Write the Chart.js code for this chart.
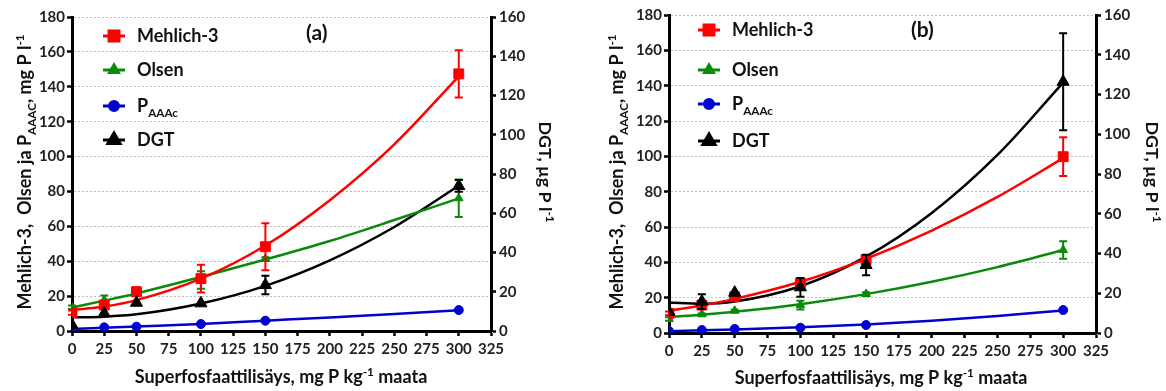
<!DOCTYPE html>
<html>
<head>
<meta charset="utf-8">
<script src="https://cdn.jsdelivr.net/npm/chart.js@4.4.1/dist/chart.umd.min.js"></script>
<style>
  html, body { margin: 0; padding: 0; background: #fff; }
  #wrap { position: relative; width: 1166px; height: 391px; }
  canvas { position: absolute; top: 0; }
</style>
</head>
<body>
<div id="wrap">
  <canvas id="chartA" width="583" height="391" style="left:0"></canvas>
  <canvas id="chartB" width="583" height="391" style="left:583px"></canvas>
</div>
<script>
// superfosfaatti doses (x) and x positions where the fitted curves were read
const doses = [0, 25, 50, 100, 150, 300];
const fitX = [0, 25, 50, 100, 150, 200, 250, 300];
const xTicks = [0, 25, 50, 75, 100, 125, 150, 175, 200, 225, 250, 275, 300, 325];
const leftTicks = [0, 20, 40, 60, 80, 100, 120, 140, 160, 180];
const rightTicks = [0, 20, 40, 60, 80, 100, 120, 140, 160];

// panel (a)
const mehlichA = [10.5, 14.9, 22.5, 30, 48.3, 147.4];
const mehlichErrA = [1.2, 1.5, 2.5, 8, 13.5, 13.5];
const olsenA = [13.6, 17.8, 21.6, 29.2, 41.3, 76.1];
const olsenErrA = [1, 2.5, 1, 5, 1, 10.8];
const aaacA = [1.1, 2.1, 2.5, 4, 5.9, 12];
const dgtA = [3.1, 9, 14.4, 14.1, 23.4, 73.9];
const dgtErrA = [0, 0, 0, 0, 4.7, 3];
const mehlichFitA = [12, 14, 17.7, 30, 49, 75, 107, 146];
const olsenFitA = [13.5, 17.4, 21.5, 31, 41, 51.6, 63.6, 76];
const aaacFitA = [1.2, 1.9, 2.6, 4, 5.9, 7.8, 9.8, 11.9];
const dgtFitA = [7, 7.3, 8.5, 14, 23, 36, 53, 74];

// panel (b)
const mehlichB = [11.1, 15.8, 20.5, 28.1, 41.5, 99.8];
const mehlichErrB = [1, 1, 1, 3, 2, 11];
const olsenB = [7.9, 10.6, 12.6, 15.8, 22.1, 47];
const olsenErrB = [1, 0.5, 0.5, 2.5, 1, 5];
const aaacB = [1.1, 1.7, 2.3, 3.0, 4.5, 13.0];
const dgtB = [10.7, 15.8, 20.3, 23.0, 34.2, 126.4];
const dgtErrB = [0, 3.7, 0, 4.7, 5.2, 24.4];
const mehlichFitB = [12.6, 15.6, 19.3, 29, 42, 58, 77, 99];
const olsenFitB = [9, 10.3, 12, 16.3, 22, 29, 37.3, 47];
const aaacFitB = [1, 1.5, 2, 3.2, 4.8, 7, 9.6, 12.8];
const dgtFitB = [15.3, 14.7, 15.8, 23.5, 38.4, 60.4, 89.6, 126];

const FONT = 'Lato, "Open Sans", sans-serif';
const RED = '#ff0000', GREEN = '#0a8a0a', BLUE = '#0000d0', BLACK = '#000000';

function pts(vals) { return doses.map((d, i) => ({x: d, y: vals[i]})); }
function fitPts(vals) { return fitX.map((d, i) => ({x: d, y: vals[i]})); }

// text with sub/superscripts: parts = [[text, ''|'sub'|'sup'], ...]
function richWidth(ctx, parts, size) {
  let w = 0;
  parts.forEach(p => {
    const s = p[1] ? size * 0.65 : size;
    ctx.font = 'bold ' + s + 'px ' + FONT;
    w += ctx.measureText(p[0]).width;
  });
  return w;
}
function drawRich(ctx, parts, size, x, y) {
  parts.forEach(p => {
    const s = p[1] ? size * 0.65 : size;
    let dy = 0;
    if (p[1] == 'sub') dy = size * 0.28;
    if (p[1] == 'sup') dy = -size * 0.42;
    ctx.font = 'bold ' + s + 'px ' + FONT;
    ctx.fillText(p[0], x, y + dy);
    x += ctx.measureText(p[0]).width;
  });
}
// draw centred, font size chosen so the text takes the given length
function drawRichFit(ctx, parts, len, cx, cy, angle) {
  ctx.save();
  const size = Math.min(18, 16 * len / richWidth(ctx, parts, 16));
  ctx.translate(cx, cy);
  ctx.rotate(angle);
  ctx.textAlign = 'left';
  ctx.textBaseline = 'alphabetic';
  ctx.fillStyle = '#111';
  const w = richWidth(ctx, parts, size);
  drawRich(ctx, parts, size, -w / 2, size * 0.35);
  ctx.restore();
}

const errorBars = {
  id: 'errorBars',
  afterDatasetDraw(chart, args) {
    const ds = chart.data.datasets[args.index];
    if (!ds.errors) return;
    const ys = chart.scales[ds.yAxisID];
    const ctx = chart.ctx;
    ctx.save();
    ctx.strokeStyle = ds.borderColor;
    ctx.lineWidth = 2;
    args.meta.data.forEach((pt, i) => {
      const e = ds.errors[i];
      if (!e) return;
      const v = ds.data[i].y;
      const top = ys.getPixelForValue(v + e);
      const bot = ys.getPixelForValue(v - e);
      ctx.beginPath();
      ctx.moveTo(pt.x, top); ctx.lineTo(pt.x, bot);
      ctx.moveTo(pt.x - 4, top); ctx.lineTo(pt.x + 4, top);
      ctx.moveTo(pt.x - 4, bot); ctx.lineTo(pt.x + 4, bot);
      ctx.stroke();
    });
    ctx.restore();
  }
};

function makePanel(id, p) {
  const series = [
    {label: [['Mehlich-3', '']], color: RED, style: 'rect', r: 7, axis: 'y', vals: p.mehlich, err: p.mehlichErr, fit: p.mehlichFit, order: 2},
    {label: [['Olsen', '']], color: GREEN, style: 'triangle', r: 5, axis: 'y', vals: p.olsen, err: p.olsenErr, fit: p.olsenFit, order: 2},
    {label: [['P', ''], ['AAAc', 'sub']], color: BLUE, style: 'circle', r: 4.5, axis: 'y', vals: p.aaac, err: null, fit: p.aaacFit, order: 2},
    {label: [['DGT', '']], color: BLACK, style: 'triangle', r: 7, axis: 'y2', vals: p.dgt, err: p.dgtErr, fit: p.dgtFit, order: 1}
  ];
  const datasets = [];
  series.forEach(s => {
    datasets.push({
      type: 'line', data: fitPts(s.fit), yAxisID: s.axis,
      borderColor: s.color, borderWidth: 2.5, pointRadius: 0,
      cubicInterpolationMode: 'monotone', fill: false, order: 3
    });
    datasets.push({
      type: 'scatter', data: pts(s.vals), yAxisID: s.axis,
      pointStyle: s.style, pointRadius: s.r, backgroundColor: s.color,
      borderColor: s.color, borderWidth: 1, showLine: false, order: s.order,
      errors: s.err
    });
  });

  const tickFont = {family: FONT, size: 15, weight: 'bold'};
  const decor = {
    id: 'decor',
    afterDraw(chart) {
      const ctx = chart.ctx;
      // legend
      series.forEach((s, i) => {
        const y = p.legendY[i];
        ctx.save();
        ctx.strokeStyle = s.color;
        ctx.lineWidth = 3;
        ctx.beginPath();
        ctx.moveTo(p.legendX, y); ctx.lineTo(p.legendX + 22, y);
        ctx.stroke();
        Chart.helpers.drawPoint(ctx, {pointStyle: s.style, radius: s.r, borderWidth: 1, rotation: 0},
          p.legendX + 11, y);
        ctx.fillStyle = s.color;
        ctx.fill();
        ctx.fillStyle = '#111';
        ctx.textBaseline = 'alphabetic';
        drawRich(ctx, s.label, 18, p.legendX + 34, y + 6);
        ctx.restore();
      });
      // panel label
      ctx.save();
      ctx.fillStyle = '#111';
      ctx.font = 'bold 21px ' + FONT;
      ctx.textBaseline = 'middle';
      ctx.fillText(p.tag, p.tagX, p.tagY);
      ctx.restore();
      // axis titles
      drawRichFit(ctx, [['Mehlich-3,  Olsen ja P', ''], ['AAAC', 'sub'], [', mg P l', ''], ['-1', 'sup']],
        281, p.leftTitleX, 172, -Math.PI / 2);
      drawRichFit(ctx, [['DGT, \u00b5g P l', ''], ['-1', 'sup']],
        101, p.rightTitleX, 172, Math.PI / 2);
      drawRichFit(ctx, [['Superfosfaattilis\u00e4ys, mg P kg', ''], ['-1', 'sup'], [' maata', '']],
        295, p.xTitleX, p.xTitleY, 0);
    }
  };

  return new Chart(document.getElementById(id), {
    data: {datasets: datasets},
    plugins: [errorBars, decor],
    options: {
      responsive: false,
      animation: false,
      devicePixelRatio: 1,
      layout: {padding: {top: p.top, left: 0, right: 0, bottom: 0}},
      plugins: {legend: {display: false}, tooltip: {enabled: false}},
      scales: {
        x: {
          type: 'linear', min: 0, max: 325,
          afterBuildTicks: s => { s.ticks = xTicks.map(v => ({value: v})); },
          afterFit: s => { s.height = p.xHeight; },
          ticks: {font: tickFont, color: '#222', padding: 4, maxRotation: 0},
          grid: {drawOnChartArea: false, tickLength: 5, tickColor: '#000', tickWidth: 2.5},
          border: {color: '#000', width: 3}
        },
        y: {
          position: 'left', min: 0, max: 180,
          afterBuildTicks: s => { s.ticks = leftTicks.map(v => ({value: v})); },
          afterFit: s => { s.width = p.leftW; },
          ticks: {font: tickFont, color: '#222', padding: 2},
          grid: {color: '#bdbdbd', lineWidth: 1, tickLength: 5, tickColor: '#000', tickWidth: 2.5},
          border: {color: '#000', width: 3, dash: [2, 2]}
        },
        y2: {
          position: 'right', min: 0, max: 160,
          afterBuildTicks: s => { s.ticks = rightTicks.map(v => ({value: v})); },
          afterFit: s => { s.width = p.rightW; },
          ticks: {font: tickFont, color: '#222', padding: 3},
          grid: {drawOnChartArea: false, tickLength: 5, tickColor: '#000', tickWidth: 2.5},
          border: {color: '#000', width: 3}
        }
      }
    }
  });
}

makePanel('chartA', {
  mehlich: mehlichA, mehlichErr: mehlichErrA, mehlichFit: mehlichFitA,
  olsen: olsenA, olsenErr: olsenErrA, olsenFit: olsenFitA,
  aaac: aaacA, aaacFit: aaacFitA,
  dgt: dgtA, dgtErr: dgtErrA, dgtFit: dgtFitA,
  top: 17, leftW: 72, rightW: 92, xHeight: 60,
  legendX: 103, legendY: [36, 70, 106, 140],
  tag: '(a)', tagX: 306, tagY: 33,
  leftTitleX: 25, rightTitleX: 545, xTitleX: 281, xTitleY: 377
});

makePanel('chartB', {
  mehlich: mehlichB, mehlichErr: mehlichErrB, mehlichFit: mehlichFitB,
  olsen: olsenB, olsenErr: olsenErrB, olsenFit: olsenFitB,
  aaac: aaacB, aaacFit: aaacFitB,
  dgt: dgtB, dgtErr: dgtErrB, dgtFit: dgtFitB,
  top: 15, leftW: 86, rightW: 70, xHeight: 58,
  legendX: 115, legendY: [30, 70, 104, 141],
  tag: '(b)', tagX: 328, tagY: 30,
  leftTitleX: 34, rightTitleX: 569, xTitleX: 298, xTitleY: 378
});
</script>
</body>
</html>
